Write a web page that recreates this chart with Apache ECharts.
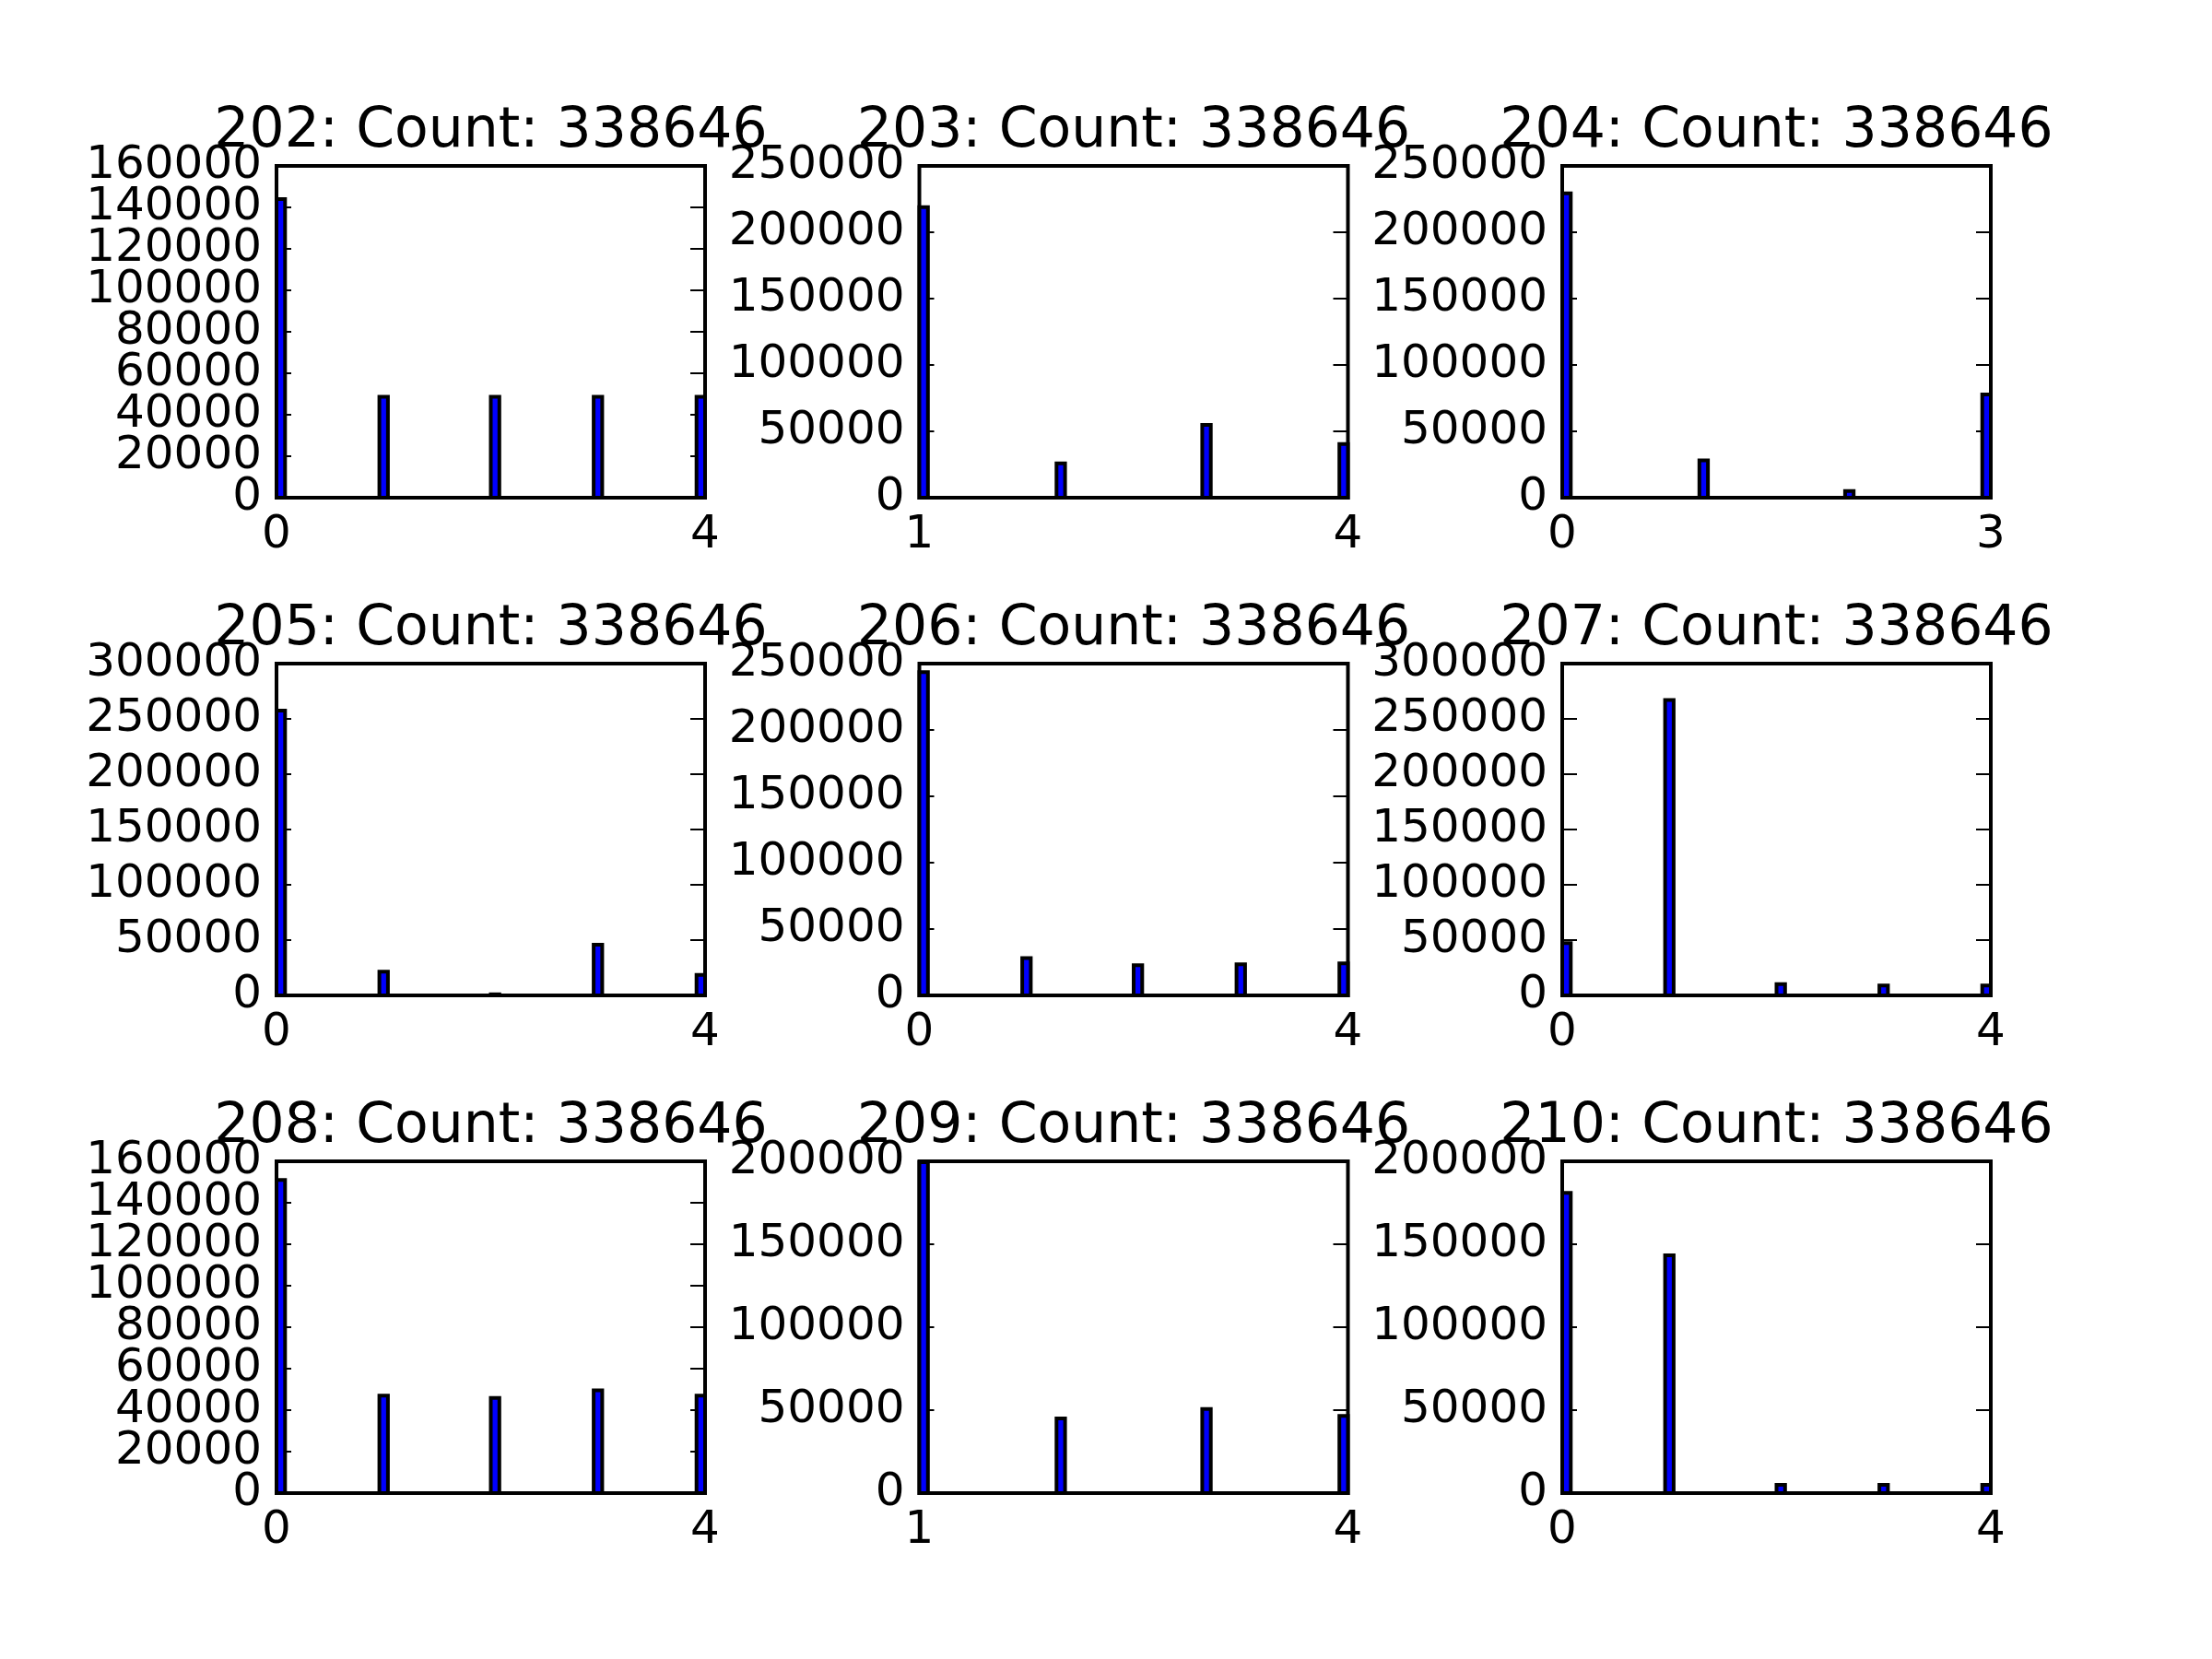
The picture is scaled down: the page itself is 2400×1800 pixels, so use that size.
<!DOCTYPE html>
<html lang="en">

<head>
  <meta charset="UTF-8">
  <title>Histograms 202-210</title>
  <style>
    html, body { margin: 0; padding: 0; background: #fff; }
  </style>
</head>

<body>
  <div id="main" style="width: 2400px;height:1800px;"></div>

  <script src="https://cdn.jsdelivr.net/npm/echarts@6/dist/echarts.min.js"></script>
  <script>
    // one entry per panel, row by row
    let panelIds = ['202', '203', '204', '205', '206', '207', '208', '209', '210'];
    let totalCount = 338646;
    let xMin = [0, 1, 0, 0, 0, 0, 0, 1, 0];
    let xMax = [4, 4, 3, 4, 4, 4, 4, 4, 4];
    let yMax = [160000, 250000, 250000, 300000, 250000, 300000, 160000, 200000, 200000];
    let yStep = [20000, 50000, 50000, 50000, 50000, 50000, 20000, 50000, 50000];

    // counts for each integer value from xMin to xMax
    let counts202 = [144000, 48700, 48650, 48650, 48646];
    let counts203 = [219000, 25900, 54800, 40500];
    let counts204 = [229400, 28200, 5000, 77800];
    let counts205 = [257500, 21400, 1000, 45800, 18600];
    let counts206 = [243500, 28200, 22700, 23400, 24100];
    let counts207 = [47200, 267000, 10300, 8900, 8900];
    let counts208 = [151000, 47000, 45900, 49600, 47000];
    let counts209 = [199500, 45000, 50700, 46500];
    let counts210 = [181000, 143300, 5000, 5000, 5000];
    let countList = [counts202, counts203, counts204, counts205, counts206,
      counts207, counts208, counts209, counts210];

    let nBins = 50;
    let font = '"DejaVu Sans", sans-serif';

    let gridLeft = [300, 997.5, 1695];
    let gridTop = [180, 720, 1260];
    let gridW = 465;
    let gridH = 360;

    // value v -> the 50-bin histogram bin it lands in: [binStart, binEnd, count]
    function binData(idx) {
      let lo = xMin[idx];
      let hi = xMax[idx];
      let w = (hi - lo) / nBins;
      return countList[idx].map((c, k) => {
        let v = lo + k;
        let b = Math.min(nBins - 1, Math.floor((v - lo) * nBins / (hi - lo)));
        return [lo + b * w, lo + (b + 1) * w, c];
      });
    }

    let tickStyle = {
      show: true,
      inside: true,
      length: 16,
      lineStyle: { color: '#000', width: 2 }
    };

    // y labels are split over two axes (even / odd steps) so that
    // echarts does not drop the ones that touch, as matplotlib keeps them all
    function yLabel(step, parity) {
      return {
        fontFamily: font,
        fontSize: 50,
        color: '#000',
        margin: 16,
        showMinLabel: true,
        showMaxLabel: true,
        hideOverlap: false,
        formatter: (v) => (Math.round(v / step) % 2 === parity ? String(v) : '')
      };
    }

    let grids = [], xAxes = [], yAxes = [], series = [], titles = [];

    panelIds.forEach((id, i) => {
      let col = i % 3;
      let row = Math.floor(i / 3);
      grids.push({
        left: gridLeft[col],
        top: gridTop[row],
        width: gridW,
        height: gridH,
        show: true,
        borderColor: '#000',
        borderWidth: 4,
        backgroundColor: '#fff',
        containLabel: false
      });
      titles.push({
        text: `${id}: Count: ${totalCount}`,
        left: gridLeft[col] + gridW / 2,
        top: 113 + row * 540,
        textAlign: 'center',
        padding: 0,
        textStyle: {
          fontFamily: font,
          fontSize: 60,
          fontWeight: 'normal',
          color: '#000'
        }
      });
      xAxes.push({
        type: 'value',
        gridIndex: i,
        min: xMin[i],
        max: xMax[i],
        interval: xMax[i] - xMin[i],
        splitLine: { show: false },
        axisLine: { show: false },
        axisTick: { show: false },
        axisLabel: {
          fontFamily: font,
          fontSize: 50,
          color: '#000',
          margin: 16,
          showMinLabel: true,
          showMaxLabel: true,
          formatter: (v) => String(v)
        }
      });
      let yBase = {
        type: 'value',
        gridIndex: i,
        min: 0,
        max: yMax[i],
        interval: yStep[i],
        splitLine: { show: false },
        axisLine: { show: false }
      };
      // left: ticks + even labels
      yAxes.push(Object.assign({}, yBase, {
        position: 'left',
        axisTick: tickStyle,
        axisLabel: yLabel(yStep[i], 0)
      }));
      // left: odd labels only
      yAxes.push(Object.assign({}, yBase, {
        position: 'left',
        axisTick: { show: false },
        axisLabel: yLabel(yStep[i], 1)
      }));
      // right: ticks, no labels
      yAxes.push(Object.assign({}, yBase, {
        position: 'right',
        axisTick: tickStyle,
        axisLabel: { show: false }
      }));
      series.push({
        type: 'custom',
        xAxisIndex: i,
        yAxisIndex: i * 3,
        clip: false,
        renderItem: (params, api) => {
          let topLeft = api.coord([api.value(0), api.value(2)]);
          let bottomRight = api.coord([api.value(1), 0]);
          return {
            type: 'rect',
            shape: {
              x: topLeft[0],
              y: topLeft[1],
              width: bottomRight[0] - topLeft[0],
              height: bottomRight[1] - topLeft[1]
            },
            style: {
              fill: '#0000ff',
              stroke: '#000',
              lineWidth: 4
            }
          };
        },
        encode: { x: [0, 1], y: 2 },
        data: binData(i)
      });
    });

    let chart = echarts.init(document.getElementById('main'));
    chart.setOption({
      backgroundColor: '#fff',
      animation: false,
      title: titles,
      grid: grids,
      xAxis: xAxes,
      yAxis: yAxes,
      series: series
    });
  </script>
</body>

</html>
